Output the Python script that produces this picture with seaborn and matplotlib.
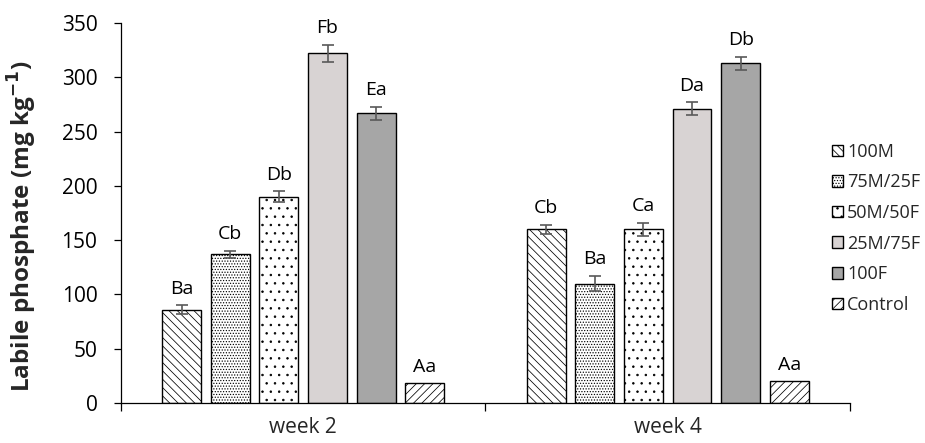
import numpy as np
import pandas as pd
import matplotlib
matplotlib.use("Agg")
import matplotlib.pyplot as plt
import seaborn as sns

weeks = ["week 2", "week 4"]
treatments = ["100M", "75M/25F", "50M/50F", "25M/75F", "100F", "Control"]
week2_values = [86, 137, 190, 322, 267, 18]
week4_values = [160, 110, 160, 271, 313, 20]
week2_errors = [4, 3, 5, 8, 6, 0]
week4_errors = [4, 7, 6, 6, 6, 0]
week2_letters = ["Ba", "Cb", "Db", "Fb", "Ea", "Aa"]
week4_letters = ["Cb", "Ba", "Ca", "Da", "Db", "Aa"]

face_colors = ["white", "white", "white", "#d8d3d3", "#a6a6a6", "white"]
hatches = ["\\\\\\\\", "......", "..", "", "", "////"]

sns.set_theme(style="white")
plt.rcParams["font.family"] = ["Open Sans", "DejaVu Sans"]
plt.rcParams["hatch.linewidth"] = 0.55

df = pd.DataFrame({
    "week": np.repeat(weeks, len(treatments)),
    "treatment": treatments * len(weeks),
    "value": week2_values + week4_values,
})
errors = week2_errors + week4_errors
letters = week2_letters + week4_letters

fig = plt.figure(figsize=(9.25, 4.43), dpi=100)
ax = fig.add_axes([0.1308, 0.0903, 0.9189 - 0.1308, 0.948 - 0.0903])

sns.barplot(data=df, x="week", y="value", hue="treatment", hue_order=treatments,
            palette=dict(zip(treatments, face_colors)), errorbar=None,
            width=0.8, gap=0.2, edgecolor="black", linewidth=1.0, ax=ax,
            saturation=1)

# bars come out grouped by hue: all weeks for treatment 0, then treatment 1, ...
bars = ax.patches[: len(df)]
for i, bar in enumerate(bars):
    t_idx = i // len(weeks)
    w_idx = i % len(weeks)
    bar.set_hatch(hatches[t_idx])
    bar.set_edgecolor("black")
    row = w_idx * len(treatments) + t_idx
    x = bar.get_x() + bar.get_width() / 2
    h = bar.get_height()
    err = errors[row]
    if err > 0:
        ax.errorbar(x, h, yerr=err, fmt="none", ecolor="#595959",
                    elinewidth=1.2, capsize=4, capthick=1.2, zorder=5)
    ax.text(x, h + err + 7, letters[row], ha="center", va="bottom",
            fontsize=14, color="black")

ax.set_ylim(0, 350)
ax.set_yticks(np.arange(0, 351, 50))
ax.set_xlim(-0.5, 1.5)
ax.set_xlabel("")
ax.set_ylabel("Labile phosphate (mg kg$^{\\mathbf{-1}}$)", fontsize=17.5,
              fontweight="bold")
ax.yaxis.set_label_coords(-0.112, 0.466)

for side in ["top", "right"]:
    ax.spines[side].set_visible(False)
for side in ["left", "bottom"]:
    ax.spines[side].set_color("black")
    ax.spines[side].set_linewidth(0.9)

ax.tick_params(axis="y", which="major", left=True, length=5, width=0.9,
               labelsize=15, colors="black", pad=12)
ax.tick_params(axis="x", which="major", bottom=False, labelsize=15, pad=4)
ax.set_xticks([-0.5, 0.5, 1.5], minor=True)
ax.tick_params(axis="x", which="minor", bottom=True, length=6, width=0.9,
               color="black")

handles, labels = ax.get_legend_handles_labels()
for hnd, hatch in zip(handles, hatches):
    hnd.set_hatch(hatch)
    hnd.set_edgecolor("black")
ax.legend(handles, labels, loc="center left", bbox_to_anchor=(0.975, 0.46),
          frameon=False, fontsize=13, handlelength=0.6, handleheight=0.6,
          handletextpad=0.25, labelspacing=0.7, borderaxespad=0, borderpad=0)

fig.savefig("out.png", dpi=100)
